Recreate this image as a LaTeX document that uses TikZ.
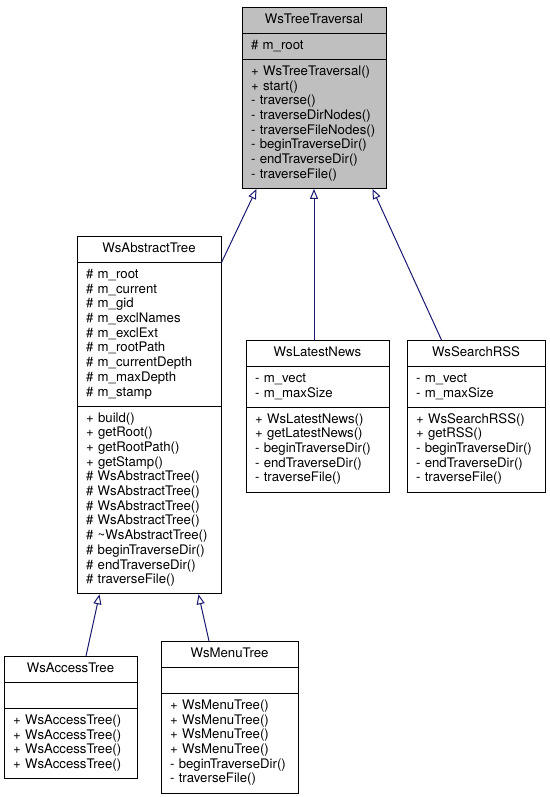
\documentclass[tikz,border=0pt]{standalone}
\usepackage{fontspec}
\setmainfont{TeX Gyre Heros}
\usetikzlibrary{shapes.multipart,arrows.meta,positioning}
\definecolor{classgray}{RGB}{191,191,191}
\definecolor{edgeblue}{RGB}{25,25,112}
\hyphenpenalty=10000
\hbadness=10000
\tikzset
{
    classbox/.style = {rectangle split, rectangle split parts=3, draw=black, line width=1pt, align=left, inner xsep=9pt, inner ysep=5.15pt, anchor=north, font=\fontsize{13.2}{14.7}\selectfont},
    basebox/.style  = {classbox, fill=classgray},
    inherit/.style  = {draw=edgeblue, line width=1pt, -{Triangle[open, length=10pt, width=8pt]}}
}
\newcommand{\cname}[1]{\strut\hfill #1\hfill\strut}

\begin{document}
\begin{tikzpicture}[x=1pt, y=-1pt]
\useasboundingbox (0,0) rectangle (549,797);
\node (trav)     [basebox, text width=126pt]  at (314,7)    {\cname{WsTreeTraversal}
	\nodepart{two}\strut\# m\_root\strut
	\nodepart{three}\strut+ WsTreeTraversal()\\ + start()\\ - traverse()\\ - traverseDirNodes()\\ - traverseFileNodes()\\ - beginTraverseDir()\\ - endTraverseDir()\\ - traverseFile()\strut};
\node (abstract) [classbox, text width=126pt] at (149,236)  {\cname{WsAbstractTree}
	\nodepart{two}\strut\# m\_root\\ \# m\_current\\ \# m\_gid\\ \# m\_exclNames\\ \# m\_exclExt\\ \# m\_rootPath\\ \# m\_currentDepth\\ \# m\_maxDepth\\ \# m\_stamp\strut
	\nodepart{three}\strut+ build()\\ + getRoot()\\ + getRootPath()\\ + getStamp()\\ \# WsAbstractTree()\\ \# WsAbstractTree()\\ \# WsAbstractTree()\\ \# WsAbstractTree()\\ \# \textasciitilde WsAbstractTree()\\ \# beginTraverseDir()\\ \# endTraverseDir()\\ \# traverseFile()\strut};
\node (latest)   [classbox, text width=125pt] at (317.5,340) {\cname{WsLatestNews}
	\nodepart{two}\strut- m\_vect\\ - m\_maxSize\strut
	\nodepart{three}\strut+ WsLatestNews()\\ + getLatestNews()\\ - beginTraverseDir()\\ - endTraverseDir()\\ - traverseFile()\strut};
\node (search)   [classbox, text width=120pt] at (476,340)  {\cname{WsSearchRSS}
	\nodepart{two}\strut- m\_vect\\ - m\_maxSize\strut
	\nodepart{three}\strut+ WsSearchRSS()\\ + getRSS()\\ - beginTraverseDir()\\ - endTraverseDir()\\ - traverseFile()\strut};
\node (access)   [classbox, text width=115pt] at (70.5,656) {\cname{WsAccessTree}
	\nodepart{two}\strut
	\nodepart{three}\strut+ WsAccessTree()\\ + WsAccessTree()\\ + WsAccessTree()\\ + WsAccessTree()\strut};
\node (menu)     [classbox, text width=119pt] at (229.5,641) {\cname{WsMenuTree}
	\nodepart{two}\strut
	\nodepart{three}\strut+ WsMenuTree()\\ + WsMenuTree()\\ + WsMenuTree()\\ + WsMenuTree()\\ - beginTraverseDir()\\ - traverseFile()\strut};

%% inheritance
\path
(abstract.one split east)      edge[inherit] ([xshift=15pt]trav.south west)
(trav.south |- latest.north)   edge[inherit] (trav.south)
([xshift=35pt]search.north west) edge[inherit] ([xshift=-14pt]trav.south east)
([xshift=15.5pt]access.north)  edge[inherit] ([xshift=23pt]abstract.south west)
([xshift=-20.5pt]menu.north)   edge[inherit] ([xshift=-23pt]abstract.south east);
\end{tikzpicture}
\end{document}
